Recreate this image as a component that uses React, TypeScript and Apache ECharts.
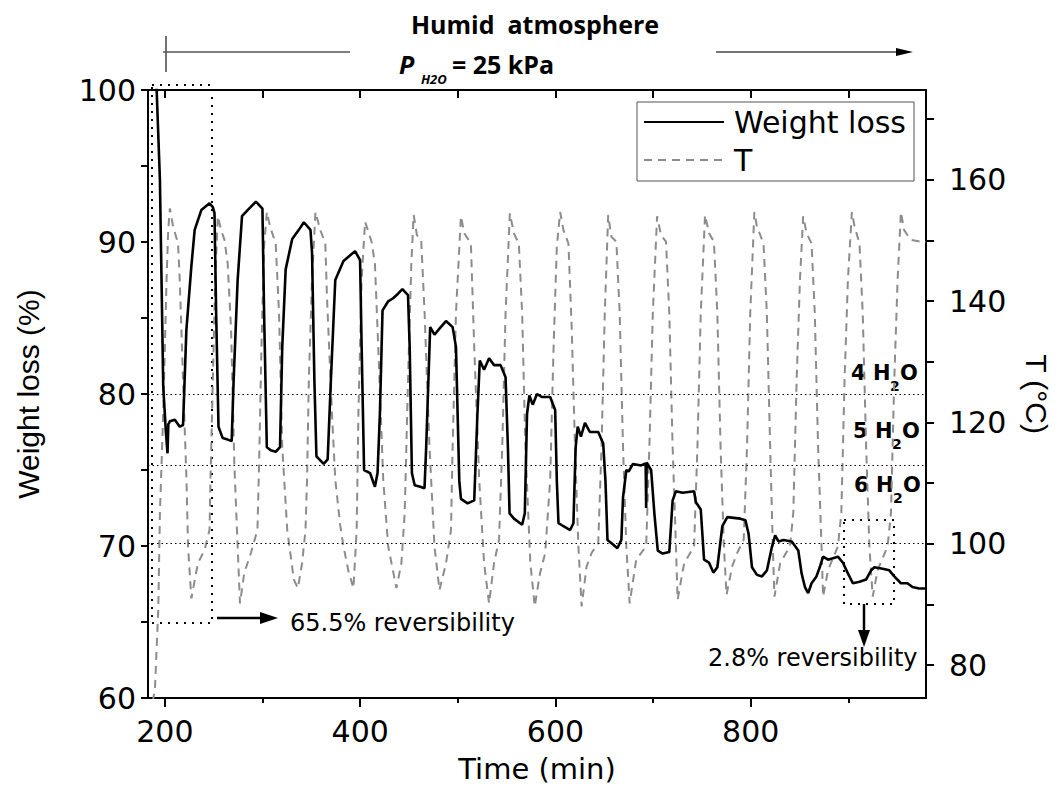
import React, { useEffect, useRef } from "react";
import * as echarts from "echarts";

// ---- data ----
const timeW = [
  191.0, 194.9, 198.3, 201.0, 202.7, 203.5, 205.1, 210.2, 215.2, 218.6, 222.0, 227.1, 230.5, 237.3, 245.7, 249.1,
  250.8, 252.5, 254.9, 259.2, 264.3, 268.4, 270.4, 274.5, 279.0, 284.7, 293.2, 299.9, 301.6, 304.4, 308.4, 313.5,
  317.9, 320.2, 323.7, 330.4, 337.2, 342.3, 349.1, 350.7, 353.1, 355.2, 362.6, 366.7, 370.0, 374.5, 382.9, 394.8,
  399.9, 401.5, 404.0, 410.1, 415.1, 417.8, 420.2, 422.9, 428.7, 433.7, 438.8, 443.2, 449.0, 450.7, 453.0, 455.8,
  461.5, 465.9, 467.6, 471.7, 476.1, 481.2, 487.9, 494.7, 498.1, 501.5, 503.2, 510.0, 516.8, 520.1, 522.5, 526.9,
  532.0, 537.1, 543.8, 548.9, 551.3, 553.0, 557.5, 565.9, 568.6, 570.9, 573.3, 576.7, 581.1, 586.2, 594.6, 599.7,
  601.4, 603.1, 608.2, 615.0, 618.4, 620.7, 622.8, 626.1, 630.2, 635.3, 643.8, 648.9, 651.2, 653.3, 659.0, 663.4,
  667.5, 669.2, 672.6, 674.9, 679.4, 687.8, 691.2, 692.4, 692.9, 693.4, 698.0, 701.3, 704.8, 709.8, 716.6, 720.0,
  723.4, 730.2, 742.0, 743.7, 748.8, 752.2, 757.3, 761.7, 765.8, 770.9, 776.0, 789.4, 794.5, 797.8, 801.3, 806.4,
  811.5, 816.6, 821.7, 825.0, 828.4, 833.5, 842.0, 848.7, 852.1, 855.5, 858.8, 862.3, 867.3, 870.7, 874.1, 879.2,
  884.2, 889.3, 894.4, 899.5, 904.6, 911.4, 918.2, 923.3, 926.7, 935.1, 941.9, 947.0, 953.8, 960.5, 965.6, 972.4,
  979.5,
];
const weight = [
  101.0, 94.1, 80.5, 77.5, 76.1, 78.0, 78.2, 78.3, 77.85, 77.96, 84.2, 88.4, 90.8, 92.1, 92.55, 92.3,
  91.9, 85.3, 77.85, 77.1, 77.0, 76.9, 80.9, 87.5, 91.7, 92.1, 92.65, 92.2, 85.3, 76.5, 76.3, 76.2,
  76.5, 83.1, 88.2, 90.2, 90.8, 91.3, 90.8, 89.3, 80.9, 75.9, 75.4, 75.7, 80.9, 87.5, 88.75, 89.4,
  88.8, 83.1, 75.0, 74.8, 73.9, 74.8, 78.7, 85.5, 86.1, 86.3, 86.6, 86.9, 86.5, 83.1, 74.8, 74.0,
  73.9, 73.8, 76.5, 84.4, 83.9, 84.3, 84.8, 84.4, 83.1, 74.3, 73.1, 72.8, 73.0, 78.7, 82.2, 81.6,
  82.35, 81.9, 81.9, 81.1, 76.5, 72.15, 71.8, 71.4, 72.15, 78.7, 79.9, 79.3, 80.0, 79.8, 79.8, 78.95,
  74.3, 71.5, 71.3, 71.05, 71.5, 76.5, 77.85, 77.2, 78.1, 77.5, 77.5, 76.75, 74.3, 70.4, 70.1, 69.85,
  70.4, 73.2, 75.0, 74.9, 75.4, 75.3, 75.4, 75.4, 72.5, 75.5, 75.0, 72.15, 69.7, 69.5, 69.6, 73.0,
  73.6, 73.5, 73.6, 72.9, 72.4, 69.1, 68.9, 68.25, 68.6, 71.3, 71.9, 71.8, 71.7, 70.8, 68.6, 68.1,
  68.0, 68.4, 69.95, 70.7, 70.3, 70.4, 70.3, 69.7, 68.2, 67.3, 66.9, 67.55, 68.0, 68.6, 69.3, 69.1,
  69.2, 69.3, 68.9, 68.2, 67.55, 67.65, 67.8, 68.4, 68.6, 68.5, 68.4, 68.0, 67.55, 67.55, 67.3, 67.2,
  67.2,
];
const timeT = [
  187.5, 189.8, 193.2, 194.9, 198.3, 201.7, 203.4, 205.1, 208.4, 213.5, 215.2, 218.6, 222.1, 223.7, 227.1, 233.8,
  240.6, 245.7, 246.7, 249.1, 251.5, 254.2, 257.6, 261.0, 264.3, 267.8, 271.1, 274.5, 276.9, 281.3, 288.1, 294.8,
  296.5, 298.9, 301.6, 304.4, 307.7, 313.5, 316.9, 320.2, 325.3, 332.1, 336.2, 340.5, 344.0, 345.6, 347.4, 350.7,
  354.2, 359.2, 364.3, 366.0, 371.1, 374.5, 379.6, 382.9, 388.0, 393.1, 396.4, 398.2, 401.5, 405.0, 411.7, 415.1,
  418.5, 423.6, 428.7, 437.1, 442.2, 445.6, 449.0, 452.4, 454.8, 458.1, 462.5, 466.0, 471.0, 476.1, 481.2, 487.9,
  493.0, 494.7, 498.1, 503.2, 506.6, 513.4, 516.8, 521.9, 526.9, 532.0, 537.1, 542.2, 545.5, 548.9, 553.3, 557.4,
  562.5, 565.9, 569.2, 574.3, 578.8, 584.0, 589.5, 594.6, 598.1, 601.4, 604.8, 608.2, 613.3, 616.7, 620.0, 623.5,
  626.8, 631.9, 637.0, 643.8, 647.2, 650.5, 654.0, 657.3, 662.4, 665.8, 669.2, 672.6, 676.0, 682.7, 692.9, 696.2,
  699.7, 704.1, 708.1, 713.2, 716.6, 720.0, 723.4, 725.1, 731.8, 742.0, 745.4, 748.8, 753.2, 757.3, 762.3, 765.8,
  769.1, 772.5, 775.2, 781.0, 786.1, 792.8, 796.2, 799.5, 803.7, 806.3, 813.1, 816.5, 819.9, 822.6, 824.3, 830.1,
  840.2, 843.6, 847.0, 850.4, 853.7, 857.2, 862.3, 865.6, 869.0, 872.5, 874.1, 879.2, 889.3, 892.8, 896.1, 899.5,
  903.6, 906.3, 911.4, 914.7, 918.2, 921.5, 924.9, 930.0, 940.2, 943.6, 947.0, 950.4, 953.8, 957.1, 963.9, 974.1,
  979.5,
];
const temp = [
  74.0, 76.0, 89.1, 105.1, 121.6, 143.5, 151.7, 155.3, 152.3, 149.5, 143.5, 127.0, 110.6, 99.6, 91.0, 96.8,
  99.0, 102.3, 110.6, 127.0, 143.5, 154.0, 151.7, 150.1, 146.2, 135.3, 113.3, 99.6, 90.2, 95.2, 98.5, 102.3,
  113.3, 132.5, 149.0, 154.7, 152.3, 149.5, 138.0, 116.0, 102.3, 94.1, 92.7, 96.8, 102.3, 110.6, 127.0, 143.5,
  154.7, 151.7, 149.5, 140.7, 121.5, 110.6, 103.0, 99.6, 95.5, 92.7, 102.3, 121.5, 143.5, 153.1, 149.8, 146.2,
  132.5, 110.6, 99.6, 92.7, 96.8, 105.1, 127.0, 146.2, 154.2, 150.9, 150.1, 138.0, 116.0, 99.6, 92.4, 96.8,
  102.3, 116.0, 138.0, 154.0, 151.2, 149.5, 132.5, 110.6, 96.8, 90.2, 96.8, 100.7, 116.0, 138.0, 154.5, 151.2,
  149.5, 138.0, 116.0, 96.8, 89.7, 95.0, 98.5, 110.6, 132.5, 149.0, 154.7, 151.7, 149.5, 135.3, 116.0, 99.6,
  89.7, 96.3, 98.5, 100.1, 116.0, 138.0, 154.2, 150.6, 149.8, 138.0, 116.0, 99.6, 90.2, 97.4, 99.6, 116.0,
  138.0, 154.0, 150.9, 149.8, 138.0, 116.0, 99.6, 90.8, 96.8, 99.6, 116.0, 138.0, 154.2, 151.2, 149.8, 138.0,
  116.0, 99.6, 91.6, 96.3, 98.5, 100.7, 116.0, 138.0, 154.7, 152.3, 149.5, 138.0, 116.0, 99.6, 91.3, 96.8,
  99.6, 105.1, 127.0, 143.5, 154.0, 151.2, 149.5, 138.0, 116.0, 99.6, 91.3, 95.7, 99.6, 105.1, 127.0, 143.5,
  154.7, 152.3, 149.5, 138.0, 116.0, 99.6, 91.3, 95.7, 99.6, 105.1, 127.0, 143.5, 154.7, 151.7, 150.1, 149.8,
  149.8,
];

const leftLabels = [60, 70, 80, 90, 100];
const rightLabels = [80, 100, 120, 140, 160];
const rightTicks = [80, 90, 100, 110, 120, 130, 140, 150, 160, 170];
const xLabels = [200, 400, 600, 800];
const xMinorTicks = [300, 500, 700, 900];
const xAllTicks = [200, 300, 400, 500, 600, 700, 800, 900];
const hydrateLevels = [80.0, 75.3, 70.2];
const hydrateNames = ["4", "5", "6"];
const seriesNames = ["Weight loss", "T"];

const X_MIN = 182.7;
const X_MAX = 979.5;
const T_MIN = 74.6;
const T_MAX = 174.8;

const SANS = "DejaVu Sans";

export default function App() {
  const ref = useRef<HTMLDivElement>(null);
  useEffect(() => {
    const chart = echarts.init(ref.current as HTMLDivElement, null, { renderer: "svg" });

    const axisLineStyle = { color: "#000", width: 2 };
    const labelStyle = { color: "#000", fontSize: 30, fontFamily: SANS };

    const hydrateLabelY = [373, 431, 485];
    const hydrateLabelX = [851, 853, 854];
    const hydrateGraphics: any[] = [];
    hydrateNames.forEach((n, i) => {
      const x = hydrateLabelX[i];
      const y = hydrateLabelY[i];
      const font = { fontFamily: SANS, fontWeight: "bold", fill: "#000" };
      hydrateGraphics.push(
        { type: "text", x, y, style: { ...font, text: n + " H", fontSize: 21, verticalAlign: "middle" } },
        { type: "text", x: x + 39, y: y + 13, style: { ...font, text: "2", fontSize: 14, verticalAlign: "middle" } },
        { type: "text", x: x + 49, y, style: { ...font, text: "O", fontSize: 21, verticalAlign: "middle" } }
      );
    });

    const dotted = { stroke: "#000", lineWidth: 2, lineDash: [2, 6], fill: null };

    chart.setOption({
      animation: false,
      backgroundColor: "#fff",
      grid: { left: 148, right: 127, top: 90, bottom: 90, containLabel: false },
      legend: {
        data: seriesNames,
        orient: "vertical",
        left: 637,
        top: 102,
        borderColor: "#555",
        borderWidth: 1,
        padding: [5, 8, 6, 6],
        itemWidth: 80,
        itemHeight: 14,
        itemGap: 8,
        itemStyle: { opacity: 0 },
        textStyle: { color: "#000", fontSize: 30, fontFamily: SANS, lineHeight: 30, padding: [0, 0, 0, 5] },
      },
      xAxis: [
        {
          type: "value",
          min: X_MIN,
          max: X_MAX,
          position: "bottom",
          axisLine: { show: true, lineStyle: axisLineStyle },
          axisTick: { show: true, customValues: xLabels, length: 9, inside: false, lineStyle: { color: "#000", width: 2 } },
          axisLabel: { customValues: xLabels, ...labelStyle, margin: 18 },
          splitLine: { show: false },
          name: "Time (min)",
          nameLocation: "middle",
          nameGap: 56,
          nameTextStyle: { color: "#000", fontSize: 29, fontFamily: SANS },
        },
        {
          type: "value",
          min: X_MIN,
          max: X_MAX,
          position: "bottom",
          axisLine: { show: false },
          axisTick: { show: true, customValues: xMinorTicks, length: 5, inside: false, lineStyle: { color: "#000", width: 2 } },
          axisLabel: { show: false },
          splitLine: { show: false },
        },
        {
          type: "value",
          min: X_MIN,
          max: X_MAX,
          position: "top",
          axisLine: { show: true, lineStyle: axisLineStyle },
          axisTick: { show: true, customValues: xAllTicks, length: 8, inside: true, lineStyle: { color: "#000", width: 2 } },
          axisLabel: { show: false },
          splitLine: { show: false },
        },
      ],
      yAxis: [
        {
          type: "value",
          min: 60,
          max: 100,
          interval: 5,
          position: "left",
          axisLine: { show: true, lineStyle: axisLineStyle },
          axisTick: { show: true, length: 7, inside: false, lineStyle: { color: "#000", width: 2 } },
          axisLabel: { customValues: leftLabels, ...labelStyle, margin: 12 },
          splitLine: { show: false },
          name: "Weight loss (%)",
          nameLocation: "middle",
          nameRotate: 90,
          nameGap: 105,
          nameTextStyle: { color: "#000", fontSize: 30, fontFamily: "Liberation Sans" },
        },
        {
          type: "value",
          min: T_MIN,
          max: T_MAX,
          position: "right",
          axisLine: { show: true, lineStyle: axisLineStyle },
          axisTick: { show: true, customValues: rightTicks, length: 8, inside: false, lineStyle: { color: "#000", width: 2 } },
          axisLabel: { customValues: rightLabels, ...labelStyle, margin: 23 },
          splitLine: { show: false },
          name: "T (°C)",
          nameLocation: "middle",
          nameRotate: -90,
          nameGap: 95,
          nameTextStyle: { color: "#000", fontSize: 30, fontFamily: "Liberation Sans" },
        },
      ],
      series: [
        {
          name: seriesNames[0],
          type: "line",
          xAxisIndex: 0,
          yAxisIndex: 0,
          data: timeW.map((t, i) => [t, weight[i]]),
          symbol: "none",
          showSymbol: false,
          lineStyle: { color: "#000", width: 2.6 },
          itemStyle: { color: "#000" },
          z: 3,
          markLine: {
            silent: true,
            symbol: "none",
            label: { show: false },
            lineStyle: { type: [1.5, 3], color: "#000", width: 1.2 },
            data: hydrateLevels.map((v) => ({ yAxis: v })),
          },
        },
        {
          name: seriesNames[1],
          type: "line",
          xAxisIndex: 0,
          yAxisIndex: 1,
          data: timeT.map((t, i) => [t, temp[i]]),
          symbol: "none",
          showSymbol: false,
          lineStyle: { color: "#8c8c8c", width: 2, type: [8, 6] },
          itemStyle: { color: "#8c8c8c" },
          z: 2,
        },
      ],
      graphic: [
        {
          type: "text",
          x: 535,
          y: 24,
          style: {
            text: "Humid  atmosphere",
            fontFamily: "Open Sans",
            fontWeight: "bold",
            fontSize: 25,
            fill: "#000",
            align: "center",
            verticalAlign: "middle",
          },
        },
        {
          type: "text",
          x: 399,
          y: 64,
          style: { text: "P", fontFamily: "Open Sans", fontWeight: "bold", fontStyle: "italic", fontSize: 25, fill: "#000", verticalAlign: "middle" },
        },
        {
          type: "text",
          x: 421,
          y: 79,
          style: { text: "H2O", fontFamily: "Open Sans", fontWeight: "bold", fontStyle: "italic", fontSize: 13, fill: "#000", verticalAlign: "middle" },
        },
        {
          type: "text",
          x: 452,
          y: 64,
          style: { text: "= 25 kPa", fontFamily: "Open Sans", fontWeight: "bold", fontSize: 25, fill: "#000", verticalAlign: "middle" },
        },
        { type: "line", shape: { x1: 166, y1: 36, x2: 166, y2: 72 }, style: { stroke: "#444", lineWidth: 1.5 } },
        { type: "line", shape: { x1: 163, y1: 52, x2: 350, y2: 52 }, style: { stroke: "#555", lineWidth: 1.5 } },
        { type: "line", shape: { x1: 716, y1: 52, x2: 900, y2: 52 }, style: { stroke: "#444", lineWidth: 1.5 } },
        { type: "polygon", shape: { points: [[896, 48], [913, 52], [896, 56]] }, style: { fill: "#000" } },
        { type: "rect", shape: { x: 152, y: 85, width: 60, height: 538 }, style: dotted },
        { type: "rect", shape: { x: 844, y: 520, width: 50, height: 84 }, style: dotted },
        { type: "line", shape: { x1: 217, y1: 618, x2: 264, y2: 618 }, style: { stroke: "#000", lineWidth: 2.5 } },
        { type: "polygon", shape: { points: [[260, 612], [278, 618], [260, 624]] }, style: { fill: "#000" } },
        { type: "line", shape: { x1: 864, y1: 604, x2: 864, y2: 634 }, style: { stroke: "#000", lineWidth: 2.5 } },
        { type: "polygon", shape: { points: [[858, 630], [864, 647], [870, 630]] }, style: { fill: "#000" } },
        {
          type: "text",
          x: 290,
          y: 623,
          style: { text: "65.5% reversibility", fontFamily: SANS, fontSize: 24, fill: "#000", verticalAlign: "middle" },
        },
        {
          type: "text",
          x: 708,
          y: 658,
          style: { text: "2.8% reversibility", fontFamily: SANS, fontSize: 24, fill: "#000", verticalAlign: "middle" },
        },
        ...hydrateGraphics,
      ],
    });

    return () => chart.dispose();
  }, []);

  return (
    <div
      ref={ref}
      style={{ position: "fixed", left: 0, top: 0, width: 1059, height: 788, background: "#fff" }}
    />
  );
}
